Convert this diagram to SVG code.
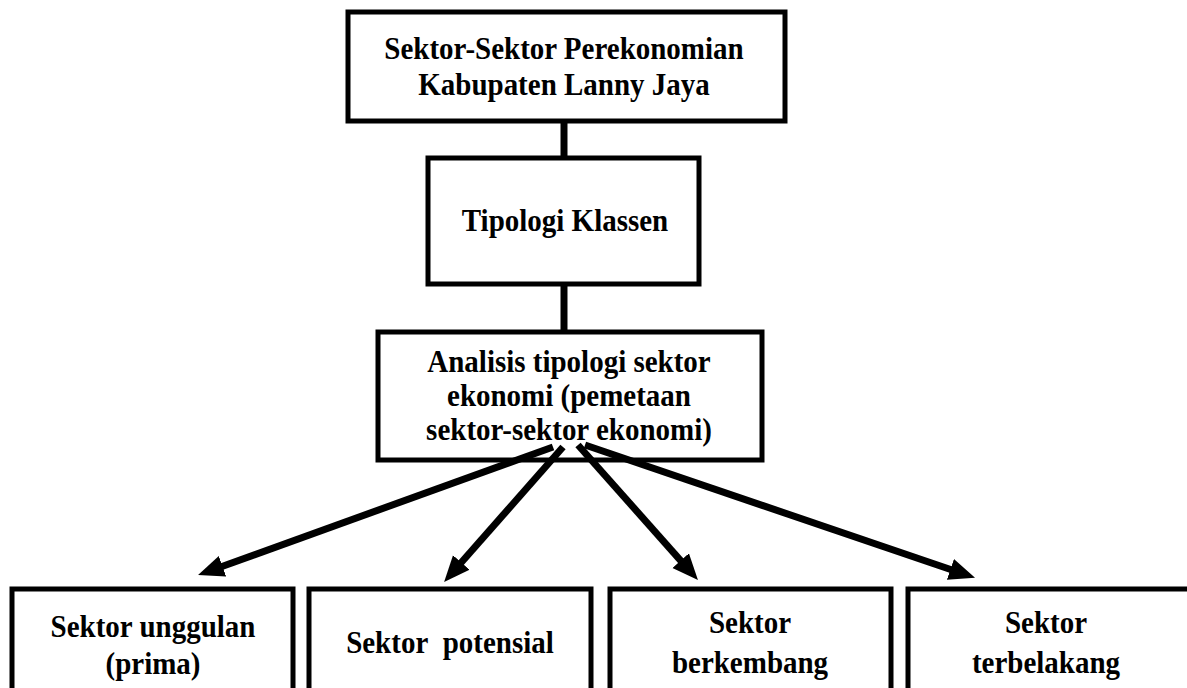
<svg xmlns="http://www.w3.org/2000/svg" width="1187" height="688" viewBox="0 0 1187 688">
<defs>
<style>
.box{fill:#fff;stroke:#000;stroke-width:5}
.t{font-family:"Liberation Serif","Times New Roman",serif;font-weight:bold;font-size:29px;fill:#000;text-anchor:middle}
.ln{stroke:#000;stroke-width:7;fill:none}
</style>
<marker id="ah" markerUnits="userSpaceOnUse" markerWidth="28" markerHeight="24" refX="8" refY="11" orient="auto">
<path d="M0,0 L26,11 L0,22 z" fill="#000"/>
</marker>
</defs>
<rect width="1187" height="688" fill="#fff"/>
<g id="node-sektor-perekonomian">
<rect class="box" x="348" y="12" width="437" height="109"/>
<text class="t" transform="translate(564,59) scale(1,1.1)">Sektor-Sektor Perekonomian</text>
<text class="t" transform="translate(564,95) scale(1,1.1)">Kabupaten Lanny Jaya</text>
</g>
<g id="node-tipologi">
<rect class="box" x="428" y="158" width="271" height="126"/>
<text class="t" transform="translate(565,231) scale(1,1.1)">Tipologi Klassen</text>
</g>
<g id="node-analisis">
<rect class="box" x="378" y="332" width="384" height="128"/>
<text class="t" transform="translate(569,372) scale(1,1.1)">Analisis tipologi sektor</text>
<text class="t" transform="translate(569,406) scale(1,1.1)">ekonomi (pemetaan</text>
<text class="t" transform="translate(569,440) scale(1,1.1)">sektor-sektor ekonomi)</text>
</g>
<g id="node-unggulan">
<rect class="box" x="12" y="589" width="281" height="120"/>
<text class="t" transform="translate(153,637) scale(1,1.1)">Sektor unggulan</text>
<text class="t" transform="translate(153,674) scale(1,1.1)">(prima)</text>
</g>
<g id="node-potensial">
<rect class="box" x="309" y="589" width="282" height="120"/>
<text class="t" transform="translate(450,653) scale(1,1.1)">Sektor&#160; potensial</text>
</g>
<g id="node-berkembang">
<rect class="box" x="610" y="589" width="281" height="120"/>
<text class="t" transform="translate(750,633) scale(1,1.1)">Sektor</text>
<text class="t" transform="translate(750,673) scale(1,1.1)">berkembang</text>
</g>
<g id="node-terbelakang">
<rect class="box" x="908" y="589" width="290" height="120"/>
<text class="t" transform="translate(1046,633) scale(1,1.1)">Sektor</text>
<text class="t" transform="translate(1046,673) scale(1,1.1)">terbelakang</text>
</g>
<g id="connectors">
<line class="ln" x1="564" y1="121" x2="564" y2="158"/>
<line class="ln" x1="564" y1="284" x2="564" y2="332"/>
<line class="ln" x1="553" y1="447" x2="215" y2="569" marker-end="url(#ah)"/>
<line class="ln" x1="563" y1="447" x2="456" y2="568.5" marker-end="url(#ah)"/>
<line class="ln" x1="578" y1="445" x2="686" y2="566.6" marker-end="url(#ah)"/>
<line class="ln" x1="585" y1="445" x2="958" y2="572" marker-end="url(#ah)"/>
</g>
</svg>
